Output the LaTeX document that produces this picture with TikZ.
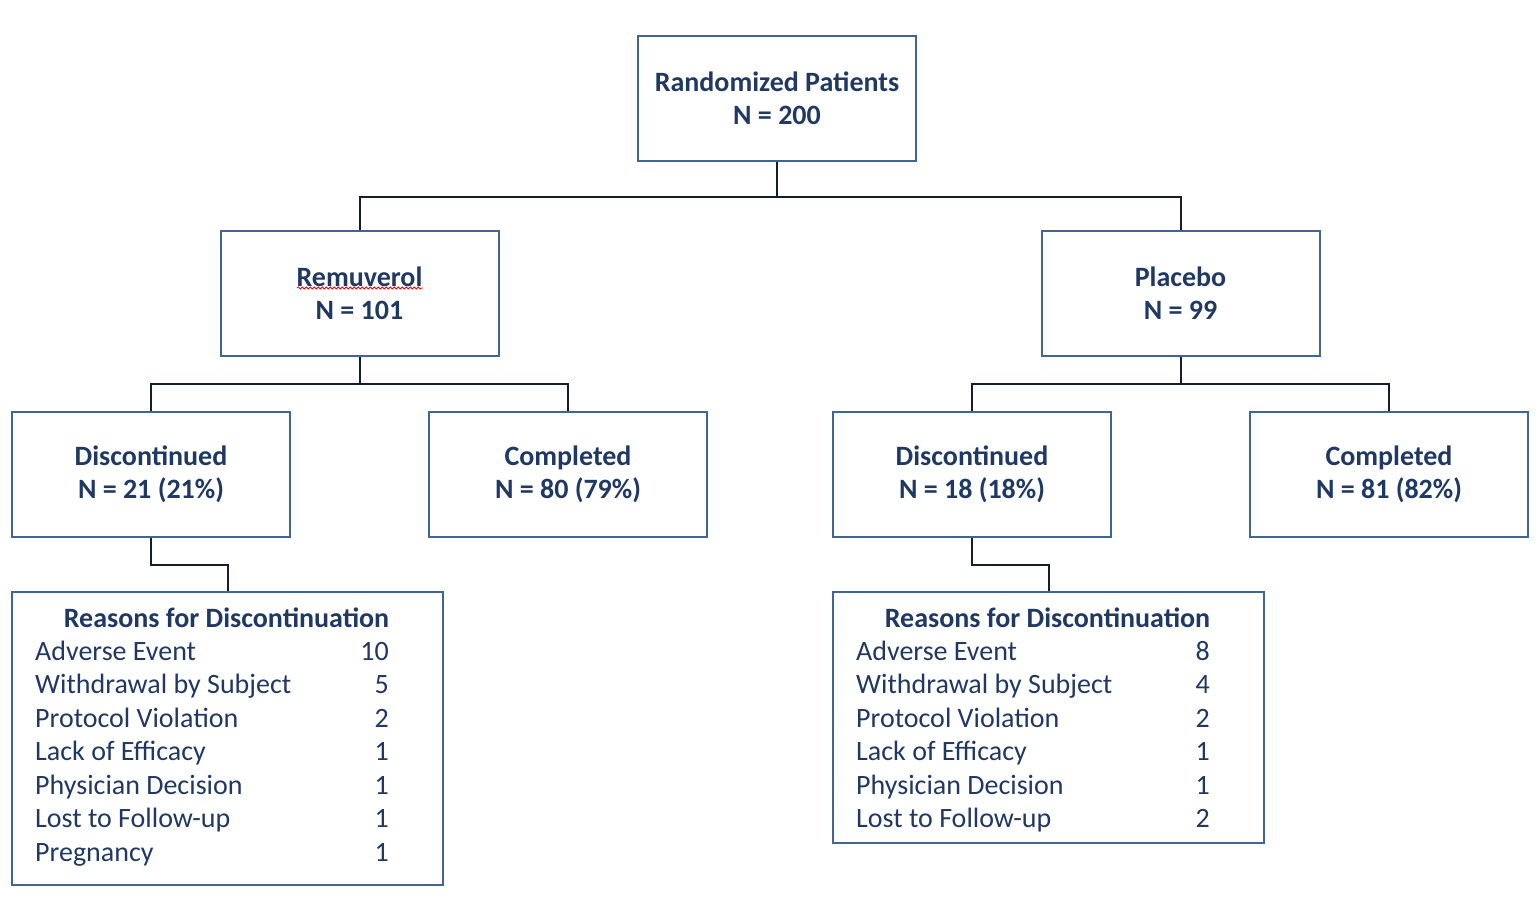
\documentclass[tikz,border=0pt]{standalone}
\usepackage{fontspec}
\setmainfont{Carlito}
\usetikzlibrary{calc,decorations.pathmorphing}

\definecolor{navy}{RGB}{31,56,100}
\definecolor{boxblue}{RGB}{65,101,152}
\definecolor{wire}{RGB}{20,30,50}

\begin{document}
\begin{tikzpicture}[x=1pt,y=-1pt]

\tikzset{
  flowbox/.style={draw=boxblue,line width=2pt,minimum width=278pt,minimum height=125pt,
    inner sep=0pt,align=center,text=navy,font=\fontsize{28}{33}\selectfont\bfseries},
  whybox/.style={draw=boxblue,line width=2pt,minimum width=431pt,inner sep=0pt},
  item/.style={inner sep=0pt,text=navy,font=\fontsize{28}{33.5}\selectfont},
  link/.style={draw=wire,line width=2pt}
}
\useasboundingbox (0,0) rectangle (1538,916);

% ----- top level -----
\node[flowbox] (rand) at (777,98.5) {Randomized Patients\\N = 200};

% ----- treatment arms -----
\node[flowbox] (remu) at (359.5,293)  {Remuverol\\N = 101};
\node[flowbox] (plac) at (1180.5,293) {Placebo\\N = 99};

\draw[link] (rand.south) -- ++(0,34.5) -| (remu.north);
\draw[link] (rand.south) -- ++(0,34.5) -| (plac.north);

% spell-check squiggle under the drug name
\draw[red,line width=0.8pt,decorate,decoration={snake,amplitude=1pt,segment length=4pt}]
  (297,288) -- (423,288);

% ----- outcome per arm -----
\node[flowbox] (discL) at (151,474)  {Discontinued\\N = 21 (21\%)};
\node[flowbox] (compL) at (568,474)  {Completed\\N = 80 (79\%)};
\node[flowbox] (discR) at (972,474)  {Discontinued\\N = 18 (18\%)};
\node[flowbox] (compR) at (1389,474) {Completed\\N = 81 (82\%)};

\draw[link] (remu.south) -- ++(0,27.5) -| (discL.north);
\draw[link] (remu.south) -- ++(0,27.5) -| (compL.north);
\draw[link] (plac.south) -- ++(0,27.5) -| (discR.north);
\draw[link] (plac.south) -- ++(0,27.5) -| (compR.north);

% ----- reasons for discontinuation -----
\node[whybox,minimum height=293pt] (whyL) at (227.5,738.5) {};
\node[whybox,minimum height=251pt] (whyR) at (1048.5,717.5) {};

\draw[link] (discL.south) -- ++(0,27.5) -| (whyL.north);
\draw[link] (discR.south) -- ++(0,27.5) -| (whyR.north);

\node[item,anchor=base,font=\fontsize{28}{33.5}\selectfont\bfseries] (whyL-title) at (226.5,627)
  {Reasons for Discontinuation};
\node[item,anchor=base,font=\fontsize{28}{33.5}\selectfont\bfseries] (whyR-title) at (1047.5,627)
  {Reasons for Discontinuation};

\foreach \what/\n [count=\i from 0] in {Adverse Event/10, Withdrawal by Subject/5,
    Protocol Violation/2, Lack of Efficacy/1, Physician Decision/1,
    Lost to Follow-up/1, Pregnancy/1} {
  \node[item,anchor=base west] (whyL-\i)  at (35,{660+33.5*\i})  {\what};
  \node[item,anchor=base east] (whyL-n\i) at (389,{660+33.5*\i}) {\n};
}

\foreach \what/\n [count=\i from 0] in {Adverse Event/8, Withdrawal by Subject/4,
    Protocol Violation/2, Lack of Efficacy/1, Physician Decision/1,
    Lost to Follow-up/2} {
  \node[item,anchor=base west] (whyR-\i)  at (856,{660+33.5*\i})  {\what};
  \node[item,anchor=base east] (whyR-n\i) at (1210,{660+33.5*\i}) {\n};
}

\end{tikzpicture}
\end{document}
